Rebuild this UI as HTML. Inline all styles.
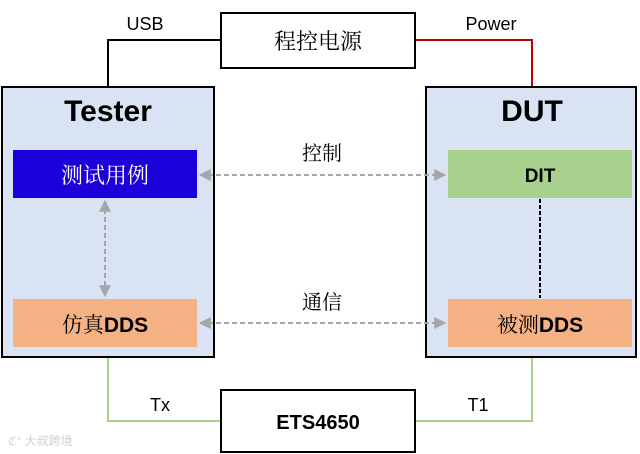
<!DOCTYPE html>
<html><head><meta charset="utf-8"><style>
html,body{margin:0;padding:0;background:#fff;width:640px;height:454px;overflow:hidden}
svg{display:block}
text{font-family:"Liberation Sans","Noto Sans CJK SC",sans-serif}
.cj{font-family:"Noto Serif CJK SC","Noto Sans CJK SC",serif}
</style></head><body>
<svg width="640" height="454" viewBox="0 0 640 454" xmlns="http://www.w3.org/2000/svg">
<defs>
<marker id="ar" viewBox="0 0 10 10" refX="9" refY="5" markerWidth="6" markerHeight="6" orient="auto-start-reverse">
<path d="M0,0 L10,5 L0,10 z" fill="#a6a6a6"/></marker>
</defs>
<polyline points="108,86 108,40 221,40" fill="none" stroke="#000" stroke-width="2"/>
<polyline points="415,40 532,40 532,86" fill="none" stroke="#c00000" stroke-width="2"/>
<polyline points="108,357 108,421 221,421" fill="none" stroke="#a9d18e" stroke-width="2"/>
<polyline points="415,421 532,421 532,357" fill="none" stroke="#a9d18e" stroke-width="2"/>
<rect x="221" y="13" width="194" height="55" fill="#fff" stroke="#000" stroke-width="2"/>
<text x="318" y="49" font-size="22" text-anchor="middle" class="cj">程控电源</text>
<text x="145" y="30" font-size="18" text-anchor="middle">USB</text>
<text x="491" y="30" font-size="18" text-anchor="middle">Power</text>
<rect x="2" y="87" width="212" height="270" fill="#dae3f3" stroke="#000" stroke-width="2"/>
<text x="108" y="121" font-size="30" font-weight="bold" text-anchor="middle">Tester</text>
<rect x="13" y="150" width="184" height="48" fill="#1b00d9"/>
<text x="105" y="183" font-size="22" fill="#fff" text-anchor="middle" class="cj">测试用例</text>
<rect x="13" y="299" width="184" height="48" fill="#f4b183"/>
<text x="105" y="332" font-size="21" text-anchor="middle"><tspan class="cj">仿真</tspan><tspan font-weight="bold">DDS</tspan></text>
<line x1="105" y1="201" x2="105" y2="296" stroke="#a6a6a6" stroke-width="2" stroke-dasharray="5,3" marker-start="url(#ar)" marker-end="url(#ar)"/>
<rect x="426" y="87" width="210" height="270" fill="#dae3f3" stroke="#000" stroke-width="2"/>
<text x="532" y="121" font-size="30" font-weight="bold" text-anchor="middle">DUT</text>
<rect x="448" y="150" width="184" height="48" fill="#a9d18e"/>
<text x="540" y="182" font-size="19" font-weight="bold" text-anchor="middle">DIT</text>
<rect x="448" y="299" width="184" height="48" fill="#f4b183"/>
<text x="540" y="332" font-size="21" text-anchor="middle"><tspan class="cj">被测</tspan><tspan font-weight="bold">DDS</tspan></text>
<line x1="540" y1="199" x2="540" y2="298" stroke="#000" stroke-width="2" stroke-dasharray="4,2"/>
<line x1="200" y1="175" x2="445" y2="175" stroke="#a6a6a6" stroke-width="2" stroke-dasharray="5,3" marker-start="url(#ar)" marker-end="url(#ar)"/>
<line x1="200" y1="323" x2="445" y2="323" stroke="#a6a6a6" stroke-width="2" stroke-dasharray="5,3" marker-start="url(#ar)" marker-end="url(#ar)"/>
<text x="322" y="160" font-size="20" text-anchor="middle" class="cj">控制</text>
<text x="322" y="309" font-size="20" text-anchor="middle" class="cj">通信</text>
<rect x="221" y="390" width="194" height="62" fill="#fff" stroke="#000" stroke-width="2"/>
<text x="318" y="429" font-size="20" font-weight="bold" text-anchor="middle">ETS4650</text>
<text x="160" y="411" font-size="18" text-anchor="middle">Tx</text>
<text x="478" y="411" font-size="18" text-anchor="middle">T1</text>
<text x="8" y="445" font-size="12" fill="#d0d0d0">ℭ° 大叔跨境</text>
</svg>
</body></html>
